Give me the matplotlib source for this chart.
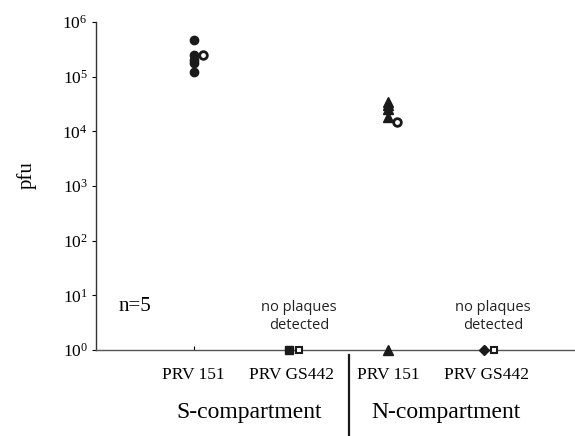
import matplotlib
matplotlib.use("Agg")
import matplotlib.pyplot as plt
from matplotlib.lines import Line2D

plt.rcParams['font.family'] = 'Liberation Serif'
plt.rcParams['mathtext.fontset'] = 'custom'
plt.rcParams['mathtext.rm'] = 'Liberation Serif'
plt.rcParams['mathtext.it'] = 'Liberation Serif'

# values (pfu)
categories = ['PRV 151', 'PRV GS442', 'PRV 151', 'PRV GS442']
s151_filled = [4.8e5, 2.5e5, 2.0e5, 1.8e5, 1.2e5]
s151_open = [2.5e5]
n151_filled = [3.5e4, 3.0e4, 2.6e4, 1.8e4]
n151_open = [1.5e4]
none_detected = [1]
groups = ['S-compartment', 'N-compartment']

fig = plt.figure(figsize=(5.75, 4.36), dpi=100)
ax = fig.add_axes([0.167, 0.197, 0.831, 0.7523])
ax.set_yscale('log')
ax.set_ylim(1, 1e6)
ax.set_xlim(0, 4.9)

ms = 6
# S-compartment, PRV 151
ax.plot([1] * len(s151_filled), s151_filled, 'o', color='#1a1a1a', ms=ms, clip_on=False)
ax.plot([1.1] * len(s151_open), s151_open, 'o', mfc='white', mec='#1a1a1a', mew=2, ms=5.5)
# S-compartment, PRV GS442
ax.plot([1.98], none_detected, 's', color='#1a1a1a', ms=6, clip_on=False, zorder=5)
ax.plot([2.08], none_detected, 's', mfc='white', mec='#1a1a1a', mew=1.5, ms=4, clip_on=False, zorder=5)
# N-compartment, PRV 151
ax.plot([2.99] * len(n151_filled), n151_filled, '^', color='#1a1a1a', ms=6.5)
ax.plot([3.09] * len(n151_open), n151_open, 'o', mfc='white', mec='#1a1a1a', mew=2, ms=5.5)
ax.plot([2.99], none_detected, '^', color='#1a1a1a', ms=6.5, clip_on=False, zorder=5)
# N-compartment, PRV GS442
ax.plot([3.98], none_detected, 'D', color='#1a1a1a', ms=5, clip_on=False, zorder=5)
ax.plot([4.08], none_detected, 's', mfc='white', mec='#1a1a1a', mew=1.5, ms=4, clip_on=False, zorder=5)

ax.spines['top'].set_visible(False)
ax.spines['right'].set_visible(False)
ax.spines['left'].set_color('#333333')
ax.spines['bottom'].set_color('#555555')
ax.spines['left'].set_linewidth(1)
ax.spines['bottom'].set_linewidth(1)

ax.set_yticks([10 ** k for k in range(7)])
ax.set_yticklabels([r'$10^{%d}$' % k for k in range(7)])
ax.minorticks_off()
ax.tick_params(axis='y', direction='out', length=3, labelsize=12.5, pad=3)
ax.set_xticks([1, 2, 3, 4])
ax.set_xticklabels(categories)
ax.tick_params(axis='x', direction='in', length=3, labelsize=12.5, pad=12)

ax.set_ylabel('pfu', fontsize=15)
ax.yaxis.set_label_coords(-0.124, 0.534)

ax.text(0.23, 10 ** 0.8, 'n=5', fontsize=15, va='center', ha='left')
for xc in [2.08, 4.07]:
    ax.text(xc, 10 ** 0.62, 'no plaques\ndetected', family='Open Sans', fontsize=10.5,
            ha='center', va='center', linespacing=1.25, color='#222222')

ax.text(1.57, -0.19, groups[0], transform=ax.get_xaxis_transform(), fontsize=17,
        ha='center', va='center')
ax.text(3.59, -0.19, groups[1], transform=ax.get_xaxis_transform(), fontsize=17,
        ha='center', va='center')

# separator between compartments
ax.add_line(Line2D([2.595, 2.595], [-0.015, -0.26], transform=ax.get_xaxis_transform(),
                   color='#1a1a1a', lw=1.6, clip_on=False))

fig.savefig('out.png', dpi=100)
